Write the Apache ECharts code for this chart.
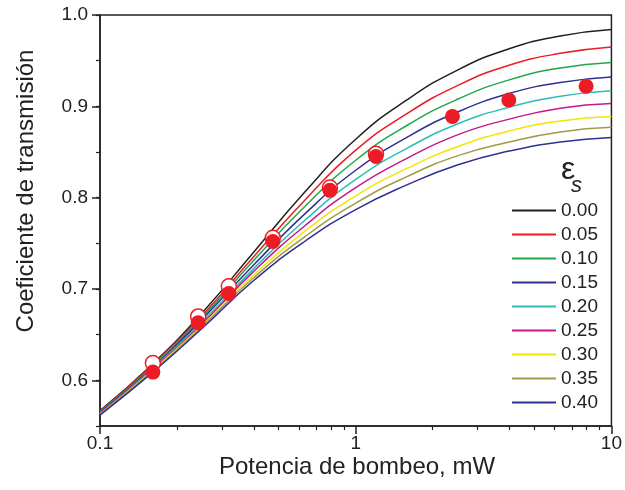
<!DOCTYPE html>
<html>
<head>
<meta charset="utf-8">
<title>Coeficiente de transmision</title>
<script src="https://cdn.jsdelivr.net/npm/echarts@6/dist/echarts.min.js"></script>
</head>
<body style="margin:0">
<div id="chart" style="width:625px;height:490px"></div>
<script>
// pump power (mW) where the curves were read, evenly spaced on the log axis
var power = [0.1, 0.158, 0.251, 0.398, 0.631, 1, 1.585, 2.512, 3.981, 6.31, 10];

var epsLabels = ['0.00', '0.05', '0.10', '0.15', '0.20', '0.25', '0.30', '0.35', '0.40'];
var colors = ['#231f20', '#ed1c24', '#1fa84a', '#2e3192', '#2bbdb9', '#c2198d', '#f2e600', '#a39a48', '#2e3192'];

var curves = [
    [0.567, 0.616, 0.674, 0.740, 0.806, 0.864, 0.907, 0.940, 0.963, 0.977, 0.984],
    [0.566, 0.615, 0.671, 0.735, 0.797, 0.852, 0.892, 0.923, 0.945, 0.958, 0.965],
    [0.566, 0.613, 0.669, 0.731, 0.790, 0.841, 0.879, 0.908, 0.929, 0.942, 0.948],
    [0.565, 0.612, 0.667, 0.726, 0.782, 0.830, 0.866, 0.894, 0.914, 0.926, 0.932],
    [0.564, 0.611, 0.664, 0.722, 0.775, 0.820, 0.854, 0.881, 0.899, 0.911, 0.917],
    [0.564, 0.610, 0.662, 0.719, 0.769, 0.811, 0.843, 0.869, 0.886, 0.898, 0.903],
    [0.563, 0.609, 0.660, 0.715, 0.763, 0.802, 0.832, 0.856, 0.873, 0.884, 0.889],
    [0.563, 0.608, 0.659, 0.712, 0.757, 0.794, 0.823, 0.846, 0.861, 0.872, 0.877],
    [0.562, 0.607, 0.657, 0.709, 0.752, 0.787, 0.814, 0.836, 0.851, 0.861, 0.866]
];

// measured points (filled) and the open markers sitting just behind them
var expPower = [0.161, 0.242, 0.319, 0.474, 0.793, 1.2, 2.39, 3.97, 7.96];
var expFilled = [0.609, 0.663, 0.695, 0.752, 0.808, 0.845, 0.889, 0.907, 0.922];
var openPower = [0.161, 0.242, 0.319, 0.474, 0.793, 1.2];
var expOpen = [0.619, 0.670, 0.703, 0.756, 0.811, 0.848];

var yMajor = [0.6, 0.7, 0.8, 0.9, 1.0];
var xMinor = [0.2, 0.3, 0.4, 0.5, 0.6, 0.7, 0.8, 0.9, 2, 3, 4, 5, 6, 7, 8, 9];

var font = '"Liberation Sans", Arial, sans-serif';
var ink = '#222';

var series = [];
for (var k = 0; k < curves.length; k++) {
    var pts = [];
    for (var i = 0; i < power.length; i++) {
        pts.push([power[i], curves[k][i]]);
    }
    series.push({
        name: epsLabels[k],
        type: 'line',
        data: pts,
        smooth: 0.5,
        showSymbol: false,
        lineStyle: { color: colors[k], width: 1.5 },
        itemStyle: { color: colors[k] },
        z: 2
    });
}

var openPts = [], filledPts = [];
for (var i = 0; i < openPower.length; i++) {
    openPts.push([openPower[i], expOpen[i]]);
}
for (var i = 0; i < expPower.length; i++) {
    filledPts.push([expPower[i], expFilled[i]]);
}
series.push({
    type: 'scatter', data: openPts, symbolSize: 15, z: 3,
    itemStyle: { color: '#fff', borderColor: '#ed1c24', borderWidth: 1.5, opacity: 1 }
});
series.push({
    type: 'scatter', data: filledPts, symbolSize: 15, z: 4,
    itemStyle: { color: '#ed1c24', opacity: 1 }
});

var chart = echarts.init(document.getElementById('chart'));
chart.setOption({
    animation: false,
    grid: { left: 100, right: 12, top: 15, bottom: 64, show: true, borderColor: ink, borderWidth: 1.5 },
    legend: {
        data: epsLabels,
        orient: 'vertical',
        left: 512, top: 201,
        padding: 0,
        itemGap: 5,
        itemWidth: 44, itemHeight: 2,
        icon: 'rect',
        textStyle: { fontFamily: font, fontSize: 19, color: ink, lineHeight: 19 }
    },
    xAxis: [{
        type: 'log', logBase: 10, min: 0.1, max: 10,
        axisLine: { lineStyle: { color: ink, width: 1.5 } },
        axisTick: { length: 8, lineStyle: { color: ink, width: 1.5 } },
        axisLabel: { fontFamily: font, fontSize: 19, color: ink, margin: 8 },
        splitLine: { show: false }, minorTick: { show: false }
    }, {
        type: 'log', logBase: 10, min: 0.1, max: 10, position: 'bottom',
        axisLine: { show: false },
        axisTick: { customValues: xMinor, length: 4, lineStyle: { color: ink, width: 1.2 } },
        axisLabel: { show: false },
        splitLine: { show: false }
    }],
    yAxis: [{
        type: 'value', min: 0.55, max: 1.0, interval: 0.05,
        axisLine: { show: true, lineStyle: { color: ink, width: 1.5 } },
        axisTick: { length: 4, lineStyle: { color: ink, width: 1.2 } },
        axisLabel: { show: false },
        splitLine: { show: false }
    }, {
        type: 'value', min: 0.55, max: 1.0, position: 'left',
        axisLine: { show: false },
        axisTick: { customValues: yMajor, length: 8, lineStyle: { color: ink, width: 1.5 } },
        axisLabel: {
            customValues: yMajor, fontFamily: font, fontSize: 19, color: ink, margin: 12,
            formatter: function (v) { return v.toFixed(1); }
        },
        splitLine: { show: false }
    }],
    graphic: [
        { type: 'text', x: 357, y: 467, style: { text: 'Potencia de bombeo, mW', font: '24px ' + font, fill: ink, align: 'center', verticalAlign: 'middle' } },
        { type: 'text', x: 26, y: 191, rotation: Math.PI / 2, style: { text: 'Coeficiente de transmisión', font: '24px ' + font, fill: ink, align: 'center', verticalAlign: 'middle' } },
        { type: 'text', x: 561, y: 170, style: { text: 'ε', font: '32px ' + font, fill: ink, align: 'left', verticalAlign: 'middle' } },
        { type: 'text', x: 571, y: 186, style: { text: 's', font: 'italic 22px ' + font, fill: ink, align: 'left', verticalAlign: 'middle' } }
    ],
    series: series
});
</script>
</body>
</html>
